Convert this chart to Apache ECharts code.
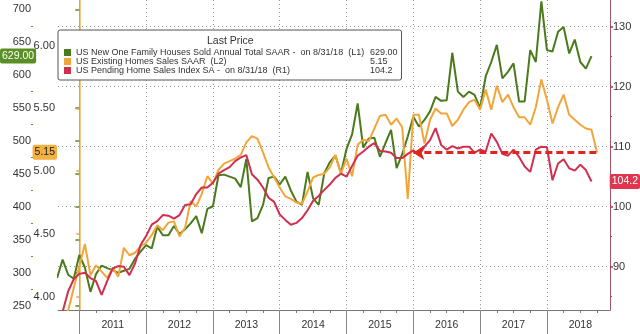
<!DOCTYPE html>
<html><head><meta charset="utf-8">
<script src="https://cdn.jsdelivr.net/npm/echarts@6/dist/echarts.min.js"></script>
<style>html,body{margin:0;padding:0;background:#fff}#c{width:640px;height:334px}</style>
</head><body><div id="c"></div>
<script>
// ---- data (monthly, month-end) ----
const firstMonth = [2010, 8];
const monthCount = 98;
const months = [];
for (let i = 0; i < monthCount; i++) {
  const t = firstMonth[0] * 12 + (firstMonth[1] - 1) + i;
  months.push(Math.floor(t / 12) + '-' + String(t % 12 + 1).padStart(2, '0'));
}
const newHomeSales = [292,320,297,291,327,308,271,298,311,307,
  304,300,303,306,321,332,342,337,370,357,
  357,371,359,366,375,386,360,397,401,448,
  449,446,443,430,473,378,383,403,444,446,
  434,446,425,408,403,453,413,403,451,468,
  478,451,488,510,557,490,504,505,476,497,
  517,459,480,507,537,522,532,545,567,561,
  562,634,575,567,575,570,550,598,620,646,
  595,605,618,560,560,638,620,712,638,636,
  666,673,633,654,620,610,629];
const existingSales = [3.70,3.80,3.89,4.07,4.24,4.42,4.17,4.25,4.20,4.15,
  4.23,4.16,4.39,4.33,4.35,4.40,4.43,4.49,4.57,4.53,
  4.59,4.60,4.48,4.55,4.76,4.72,4.82,4.96,4.90,5.01,
  5.06,5.08,5.10,5.13,5.23,5.28,5.26,5.15,5.03,4.95,
  4.87,4.80,4.78,4.75,4.74,4.84,4.95,4.97,4.98,5.03,
  5.13,4.98,5.10,4.96,5.21,5.25,5.24,5.34,5.44,5.45,
  5.37,5.42,5.35,4.78,5.45,5.45,5.22,5.41,5.50,5.46,
  5.46,5.36,5.41,5.49,5.55,5.57,5.49,5.65,5.49,5.68,
  5.55,5.61,5.51,5.43,5.43,5.37,5.51,5.73,5.57,5.38,
  5.51,5.61,5.45,5.41,5.37,5.34,5.33,5.15];
const pendingIndex = [79.0,82.5,85.9,87.9,88.8,89.0,88.1,87.6,85.3,87.6,
  89.7,90.1,90.0,88.6,90.5,93.6,95.1,97.0,97.6,98.6,
  98.5,98.0,98.6,100.3,100.4,102.1,103.2,103.2,104.0,105.5,
  106.1,106.6,107.6,108.2,108.6,105.4,104.5,103.2,101.5,100.8,
  98.7,97.8,97.0,97.3,98.1,99.4,101.0,101.8,102.8,103.7,
  104.8,105.5,105.0,106.8,108.5,109.2,110.0,110.6,109.3,109.2,
  109.0,108.1,108.1,108.8,109.4,108.6,110.0,111.1,113.1,110.3,
  109.5,110.1,109.7,110.0,110.0,109.0,109.5,109.2,112.2,110.8,
  108.8,108.5,109.5,108.3,106.7,105.8,109.5,110.0,109.9,104.4,
  107.2,107.9,106.4,106.0,107.0,106.1,104.2];
const years = [2011,2012,2013,2014,2015,2016,2017,2018];
const l1Ticks = [250,300,350,400,450,500,550,600,650,700];
const l1Minor = [275,325,375,425,475,525,575,625,675];
const l2Ticks = [4.00,4.50,5.00,5.50,6.00];
const r1Ticks = [90,100,110,120,130];
const r1Minor = [85,95,105,115,125];
const names = [
  'US New One Family Houses Sold Annual Total SAAR -  on 8/31/18  (L1)',
  'US Existing Homes Sales SAAR  (L2)',
  'US Pending Home Sales Index SA -  on 8/31/18  (R1)'];
const lastLabels = ['629.00', '5.15', '104.2'];
const trend = { from: '2015-12', to: '2018-09', level: 109 };

// ---- helpers ----
const baseYear = years[0];
function mIdx(s) { const [y, m] = s.split('-').map(Number); return (y - baseYear) * 12 + m; }
const pts = arr => arr.map((v, i) => [mIdx(months[i]), v]);
const yearStarts = years.map(y => (y - baseYear) * 12);
const yearMids = years.map(y => (y - baseYear) * 12 + 6);
const quarters = [];
years.forEach(y => [3, 6, 9].forEach(q => quarters.push((y - baseYear) * 12 + q)));

const GREEN = '#4b7a1c', ORANGE = '#f2a63a', RED = '#d12f4e';
const FONT = "'Liberation Sans','Arial',sans-serif";
const TXT = '#333';
const LEG = 9;

const chart = echarts.init(document.getElementById('c'), null, { renderer: 'canvas' });
const hidePointerLine = { lineStyle: { opacity: 0, width: 0 } };
chart.setOption({
  animation: false,
  backgroundColor: '#fff',
  textStyle: { fontFamily: FONT },
  grid: { left: 58, right: 30, top: 0, bottom: 24, containLabel: false },
  title: { text: 'Last Price', left: 207, top: 36, padding: 0, z: 10,
    textStyle: { fontSize: 10.5, fontWeight: 'normal', color: TXT, fontFamily: FONT } },
  legend: {
    left: 58, top: 30, orient: 'vertical', itemGap: 0, itemWidth: 7, itemHeight: 7,
    icon: 'rect', padding: [18, 4, 5, 6], backgroundColor: '#fff',
    borderColor: '#555', borderWidth: 1, borderRadius: 2, selectedMode: false,
    data: names,
    formatter: n => '{n|' + n + '}{v|' + lastLabels[names.indexOf(n)] + '}',
    textStyle: { fontFamily: FONT, color: TXT, fontSize: LEG,
      rich: { n: { width: 294, fontSize: LEG, lineHeight: 10, fontFamily: FONT, color: TXT },
              v: { width: 26, fontSize: LEG, lineHeight: 10, fontFamily: FONT, color: TXT } } }
  },
  xAxis: [{
    type: 'value', min: -3.83, max: 95.33,
    axisLine: { show: true, lineStyle: { color: '#777', width: 1 } },
    axisTick: { show: true, customValues: yearStarts, length: 24, lineStyle: { color: '#888' } },
    axisLabel: { customValues: yearMids, margin: 10, color: TXT, fontSize: 10.5, fontFamily: FONT,
      formatter: v => String(baseYear + Math.round((v - 6) / 12)) },
    splitLine: { show: true, lineStyle: { color: '#999', type: [1, 3], width: 1 } }
  }, {
    type: 'value', min: -3.83, max: 95.33, position: 'bottom',
    axisLine: { show: false },
    axisTick: { show: true, customValues: quarters, length: 3, lineStyle: { color: '#777' } },
    axisLabel: { show: false }, splitLine: { show: false }
  }],
  yAxis: [{
    type: 'value', position: 'left', offset: 25, min: 243.5, max: 714.1,
    axisLine: { show: true, lineStyle: { color: '#6f8f3a', width: 1 } },
    axisTick: { show: true, customValues: l1Ticks, length: 4, lineStyle: { color: '#5f8a25', width: 1.5 } },
    axisLabel: { customValues: l1Ticks, margin: 2, color: TXT, fontSize: 11, fontFamily: FONT },
    splitLine: { show: false },
    axisPointer: Object.assign({ show: true, status: 'show', value: newHomeSales[newHomeSales.length - 1],
      triggerTooltip: false, snap: false,
      label: { show: true, formatter: () => lastLabels[0], backgroundColor: '#5a8f24', color: '#fff',
        padding: [2, 2], fontSize: 10.5, fontFamily: FONT, borderRadius: 2, margin: 0 } }, hidePointerLine)
  }, {
    type: 'value', position: 'left', offset: 0, min: 3.894, max: 6.364,
    axisLine: { show: true, lineStyle: { color: '#eeb457', width: 1.5 } },
    axisTick: { show: true, customValues: l2Ticks, length: 3, lineStyle: { color: '#eea83c', width: 1.5 } },
    axisLabel: { customValues: l2Ticks, margin: 3, color: TXT, fontSize: 11, fontFamily: FONT,
      formatter: v => v.toFixed(2) },
    splitLine: { show: false },
    axisPointer: Object.assign({ show: true, status: 'show', value: existingSales[existingSales.length - 1],
      triggerTooltip: false, snap: false,
      label: { show: true, formatter: () => lastLabels[1], backgroundColor: '#f4b040', color: '#222',
        padding: [2, 2], fontSize: 10.5, fontFamily: FONT, borderRadius: 2, margin: 1 } }, hidePointerLine)
  }, {
    type: 'value', position: 'right', min: 82.78, max: 134.45,
    axisLine: { show: true, lineStyle: { color: '#a25566', width: 1 } },
    axisTick: { show: true, customValues: r1Ticks, length: 3, lineStyle: { color: '#c0304a', width: 1.5 } },
    axisLabel: { customValues: r1Ticks, margin: 3, color: TXT, fontSize: 11, fontFamily: FONT },
    splitLine: { show: true, lineStyle: { color: '#999', type: [1, 3], width: 1 } },
    axisPointer: Object.assign({ show: true, status: 'show', value: pendingIndex[pendingIndex.length - 1],
      triggerTooltip: false, snap: false,
      label: { show: true, formatter: () => lastLabels[2], backgroundColor: '#e0354f', color: '#fff',
        padding: [2, 2], fontSize: 10.5, fontFamily: FONT, borderRadius: 2, margin: 2 } }, hidePointerLine)
  }, {
    type: 'value', position: 'left', offset: 25, min: 243.5, max: 714.1,
    axisLine: { show: false }, axisLabel: { show: false }, splitLine: { show: false },
    axisTick: { show: true, customValues: l1Minor, length: 2, lineStyle: { color: '#6f8f3a' } }
  }, {
    type: 'value', position: 'right', min: 82.78, max: 134.45,
    axisLine: { show: false }, axisLabel: { show: false }, splitLine: { show: false },
    axisTick: { show: true, customValues: r1Minor, length: 2, lineStyle: { color: '#a25566' } }
  }],
  series: [{
    name: names[0], type: 'line', yAxisIndex: 0, data: pts(newHomeSales),
    showSymbol: false, symbol: 'none', color: GREEN, lineStyle: { width: 2, color: GREEN }, clip: true
  }, {
    name: names[1], type: 'line', yAxisIndex: 1, data: pts(existingSales),
    showSymbol: false, symbol: 'none', color: ORANGE, lineStyle: { width: 2, color: ORANGE }, clip: true
  }, {
    name: names[2], type: 'line', yAxisIndex: 2, data: pts(pendingIndex),
    showSymbol: false, symbol: 'none', color: RED, lineStyle: { width: 2, color: RED }, clip: true,
    markLine: {
      silent: true, animation: false, symbolSize: 11,
      label: { show: false },
      lineStyle: { color: '#e0261c', type: [7, 4], width: 3 },
      data: [[{ coord: [mIdx(trend.from), trend.level], symbol: 'arrow' },
              { coord: [mIdx(trend.to), trend.level], symbol: 'none' }]]
    }
  }]
});
</script>
</body></html>
